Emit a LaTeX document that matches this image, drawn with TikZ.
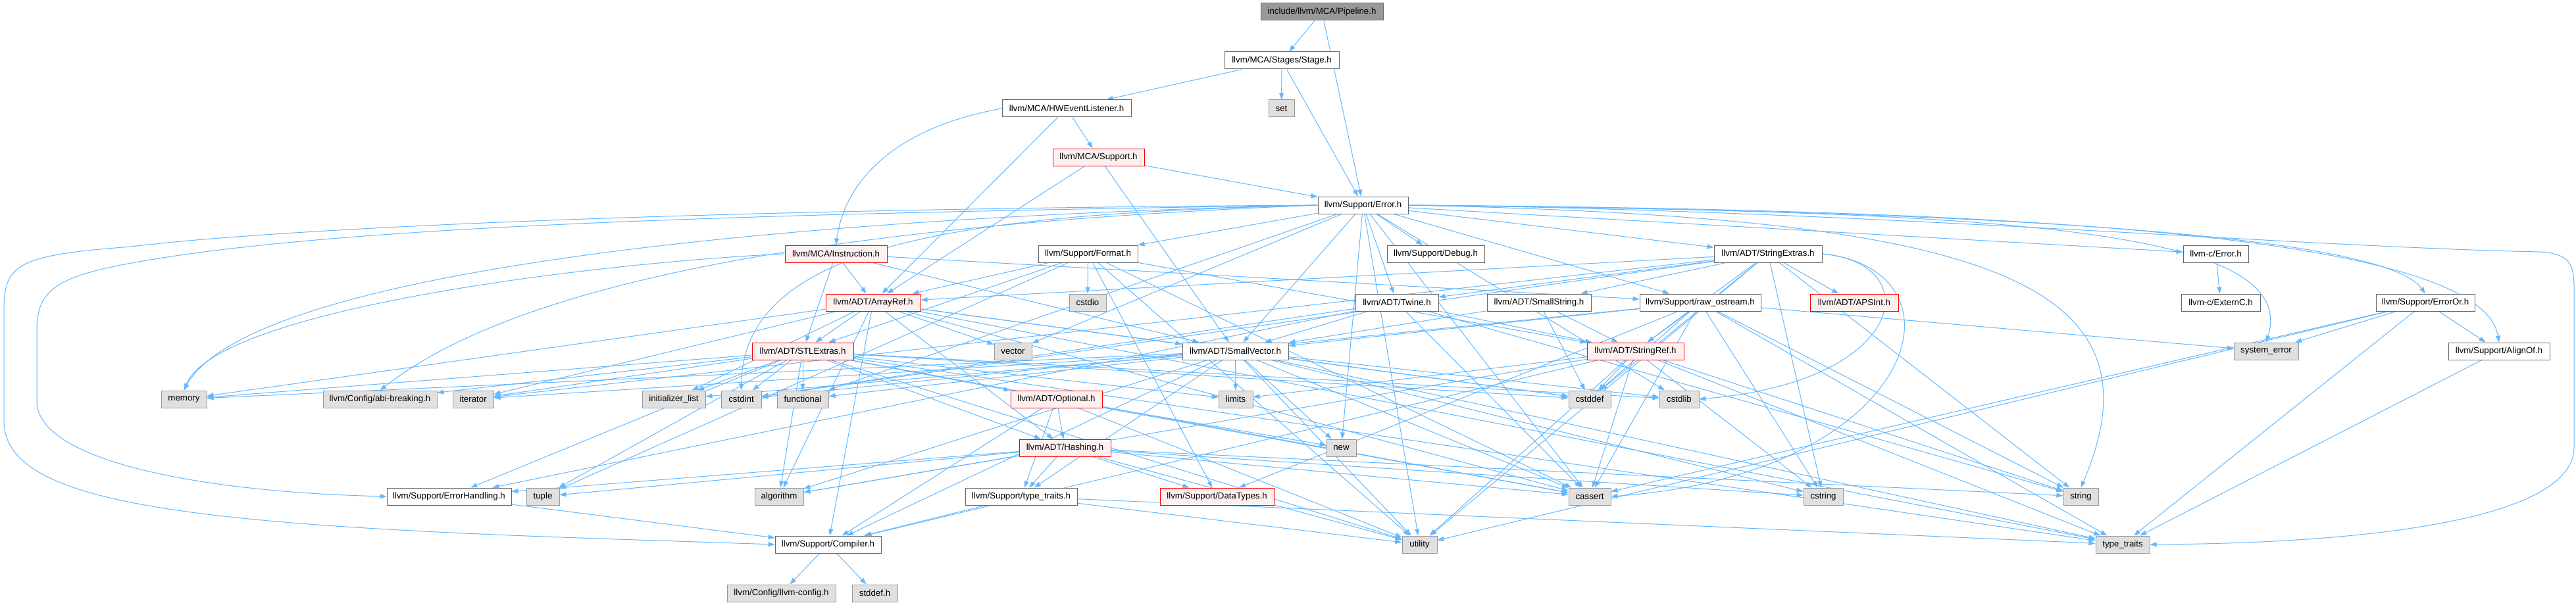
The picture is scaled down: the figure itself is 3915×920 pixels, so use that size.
\documentclass[tikz,border=0pt]{standalone}
\usepackage{fontspec}
\setmainfont{Liberation Sans}
\usetikzlibrary{arrows.meta,backgrounds}
\definecolor{edgeblue}{HTML}{63B8FF}
\definecolor{gfour}{HTML}{666666}
\definecolor{gsix}{HTML}{999999}
\definecolor{geight}{HTML}{E0E0E0}
\definecolor{redfill}{HTML}{FFF0F0}
\tikzset{
  box/.style={draw, line width=1pt, minimum height=26pt, inner sep=0pt, font=\fontsize{13.3}{15}\selectfont},
  std/.style={box, draw=gfour, fill=white},
  sys/.style={box, draw=gsix, fill=geight},
  trunc/.style={box, draw=red, fill=redfill},
  root/.style={box, draw=gfour, fill=gsix},
  e/.style={draw=edgeblue, line width=1pt, -{Triangle[length=10pt,width=7pt]}},
}
\begin{document}
\begin{tikzpicture}[x=1pt,y=-1pt]
\useasboundingbox (0,0) rectangle (3915,920);
% nodes
\node[root, minimum width=186pt] (pipe) at (2009,18) {include/llvm/MCA/Pipeline.h};
\node[std, minimum width=174pt] (stage) at (1948,92) {llvm/MCA/Stages/Stage.h};
\node[sys, minimum width=39pt] (set) at (1947.5,165) {set};
\node[std, minimum width=196pt] (hwel) at (1621,165) {llvm/MCA/HWEventListener.h};
\node[trunc, minimum width=139pt] (mcasup) at (1669.5,239) {llvm/MCA/Support.h};
\node[std, minimum width=137pt] (err) at (2071.5,312) {llvm/Support/Error.h};
\node[trunc, minimum width=155pt] (instr) at (1270.5,386) {llvm/MCA/Instruction.h};
\node[std, minimum width=151pt] (fmt) at (1653.5,386) {llvm/Support/Format.h};
\node[std, minimum width=148pt] (dbg) at (2182,386) {llvm/Support/Debug.h};
\node[std, minimum width=164pt] (strext) at (2687,386) {llvm/ADT/StringExtras.h};
\node[std, minimum width=99pt] (cerr) at (3367.5,386) {llvm-c/Error.h};
\node[std, minimum width=120pt] (externc) at (3375,460) {llvm-c/ExternC.h};
\node[std, minimum width=150pt] (erroror) at (3686,460) {llvm/Support/ErrorOr.h};
\node[trunc, minimum width=144pt] (arrayref) at (1327,460) {llvm/ADT/ArrayRef.h};
\node[sys, minimum width=56pt] (cstdio) at (1653,460) {cstdio};
\node[std, minimum width=126pt] (twine) at (2123,460) {llvm/ADT/Twine.h};
\node[std, minimum width=158pt] (smallstr) at (2339,460) {llvm/ADT/SmallString.h};
\node[std, minimum width=184pt] (rawos) at (2584,460) {llvm/Support/raw\_ostream.h};
\node[trunc, minimum width=134pt] (apsint) at (2818,460) {llvm/ADT/APSInt.h};
\node[trunc, minimum width=154pt] (stlext) at (1220,534) {llvm/ADT/STLExtras.h};
\node[sys, minimum width=57pt] (vector) at (1539.5,534) {vector};
\node[std, minimum width=161pt] (smallvec) at (1877.5,534) {llvm/ADT/SmallVector.h};
\node[trunc, minimum width=147pt] (strref) at (2485.5,534) {llvm/ADT/StringRef.h};
\node[sys, minimum width=98pt] (syserr) at (3444,534) {system\_error};
\node[std, minimum width=154pt] (alignof) at (3798,534) {llvm/Support/AlignOf.h};
\node[sys, minimum width=69pt] (memory) at (279.5,607) {memory};
\node[sys, minimum width=173pt] (abi) at (577.5,607) {llvm/Config/abi-breaking.h};
\node[sys, minimum width=62pt] (iterator) at (719,607) {iterator};
\node[sys, minimum width=96pt] (initlist) at (1024,607) {initializer\_list};
\node[sys, minimum width=61pt] (cstdint) at (1126.5,607) {cstdint};
\node[sys, minimum width=78pt] (functional) at (1220,607) {functional};
\node[trunc, minimum width=139pt] (optional) at (1605.5,607) {llvm/ADT/Optional.h};
\node[sys, minimum width=52pt] (limits) at (1878,607) {limits};
\node[sys, minimum width=64pt] (cstddef) at (2416,607) {cstddef};
\node[sys, minimum width=60pt] (cstdlib) at (2552,607) {cstdlib};
\node[sys, minimum width=45pt] (new) at (2038.5,681) {new};
\node[trunc, minimum width=139pt] (hashing) at (1618.5,681) {llvm/ADT/Hashing.h};
\node[std, minimum width=189pt] (errhand) at (682.5,755) {llvm/Support/ErrorHandling.h};
\node[sys, minimum width=50pt] (tuple) at (825,755) {tuple};
\node[sys, minimum width=74pt] (algorithm) at (1184,755) {algorithm};
\node[std, minimum width=170pt] (tth) at (1552,755) {llvm/Support/type\_traits.h};
\node[trunc, minimum width=173pt] (datatypes) at (1849.5,755) {llvm/Support/DataTypes.h};
\node[sys, minimum width=64pt] (cassert) at (2416,755) {cassert};
\node[sys, minimum width=60pt] (cstring) at (2771,755) {cstring};
\node[sys, minimum width=53pt] (string) at (3162.5,755) {string};
\node[std, minimum width=161pt] (compiler) at (1258.5,828) {llvm/Support/Compiler.h};
\node[sys, minimum width=53pt] (utility) at (2157.5,828) {utility};
\node[sys, minimum width=82pt] (typetraits) at (3226,828) {type\_traits};
\node[sys, minimum width=165pt] (llvmconfig) at (1187.5,902) {llvm/Config/llvm-config.h};
\node[sys, minimum width=69pt] (stddef) at (1329.5,902) {stddef.h};
% edges
\begin{pgfonlayer}{background}
\fill[white] (0,0) rectangle (3915,920);
\foreach \a/\b in {pipe/stage, pipe/err, stage/hwel, stage/set, stage/err,
  hwel/arrayref, hwel/mcasup, mcasup/err, mcasup/arrayref, mcasup/smallvec,
  err/cerr, err/smallvec, err/strext, err/twine, err/dbg, err/fmt, err/rawos,
  err/cassert, err/cstdlib, err/functional, err/new, err/utility, err/vector,
  instr/arrayref, instr/stlext, instr/smallvec, instr/rawos,
  fmt/arrayref, fmt/stlext, fmt/strref, fmt/datatypes, fmt/cassert, fmt/cstdio, fmt/tuple, fmt/utility,
  strext/apsint, strext/arrayref, strext/smallstr, strext/strref, strext/twine,
  strext/cstddef, strext/cstdint, strext/cstring, strext/iterator, strext/string, strext/utility,
  cerr/externc,
  erroror/alignof, erroror/cassert, erroror/syserr, erroror/typetraits, erroror/utility,
  alignof/typetraits,
  arrayref/hashing, arrayref/smallvec, arrayref/stlext, arrayref/compiler, arrayref/algorithm,
  arrayref/cassert, arrayref/cstddef, arrayref/initlist, arrayref/iterator, arrayref/memory,
  arrayref/typetraits, arrayref/vector,
  stlext/hashing, stlext/optional, stlext/abi, stlext/errhand, stlext/algorithm, stlext/cassert,
  stlext/cstddef, stlext/cstdint, stlext/cstdlib, stlext/functional, stlext/initlist, stlext/iterator,
  stlext/limits, stlext/memory, stlext/tuple, stlext/typetraits, stlext/utility,
  smallvec/compiler, smallvec/tth, smallvec/algorithm, smallvec/cassert, smallvec/cstddef,
  smallvec/cstdlib, smallvec/cstring, smallvec/functional, smallvec/initlist, smallvec/iterator,
  smallvec/limits, smallvec/memory, smallvec/new, smallvec/typetraits, smallvec/utility,
  twine/smallvec, twine/strref, twine/errhand, twine/cassert, twine/cstdint, twine/string,
  smallstr/smallvec, smallstr/strref, smallstr/cstddef,
  rawos/smallvec, rawos/strref, rawos/datatypes, rawos/cassert, rawos/cstddef, rawos/cstdint,
  rawos/cstring, rawos/string, rawos/syserr, rawos/typetraits,
  strref/compiler, strref/algorithm, strref/cassert, strref/cstddef, strref/cstring, strref/limits,
  strref/string, strref/typetraits, strref/utility,
  optional/hashing, optional/compiler, optional/tth, optional/cassert, optional/new, optional/utility,
  hashing/datatypes, hashing/errhand, hashing/tth, hashing/algorithm, hashing/cassert,
  hashing/cstring, hashing/string, hashing/tuple, hashing/utility,
  errhand/compiler, tth/compiler, tth/typetraits, tth/utility, compiler/llvmconfig, compiler/stddef}
  {\draw[e] (\a) -- (\b);}
% curved edges
\draw[e] (hwel.west) .. controls (1330,200) and (1280,300) .. (instr.north);
\draw[e] (instr.west) .. controls (900,400) and (330,470) .. (memory.north);
\draw[e] (err.west) .. controls (1000,318) and (400,350) .. (200,375) .. controls (30,388) and (6,400) .. (6,470) -- (6,640) .. controls (6,770) and (300,800) .. (1000,822) -- (compiler.west);
\draw[e] (err.west) .. controls (1100,325) and (500,345) .. (200,400) .. controls (90,420) and (56,440) .. (56,500) -- (56,610) .. controls (56,700) and (300,748) .. (errhand.west);
\draw[e] (err.west) .. controls (1200,330) and (380,410) .. (memory.north);
\draw[e] (err.west) .. controls (1300,340) and (800,420) .. (abi.north);
\draw[e] (err.west) .. controls (1500,325) and (1130,360) .. (cstdint.north);
\draw[e] (err.east) .. controls (2800,318) and (3500,376) .. (3860,383) .. controls (3905,386) and (3912,400) .. (3912,440) -- (3912,680) .. controls (3912,790) and (3600,826) .. (typetraits.east);
\draw[e] (err.east) .. controls (3000,318) and (3770,350) .. (alignof.north);
\draw[e] (err.east) .. controls (3000,320) and (3620,355) .. (erroror.north);
\draw[e] (err.east) .. controls (3000,322) and (3500,340) .. (syserr.north);
\draw[e] (err.east) .. controls (3000,330) and (3300,420) .. (string.north);
\draw[e] (strext.east) .. controls (2930,400) and (2900,580) .. (cstdlib.east);
\draw[e] (strext.east) .. controls (3000,410) and (2920,720) .. (cassert.east);
\end{pgfonlayer}
\end{tikzpicture}
\end{document}
